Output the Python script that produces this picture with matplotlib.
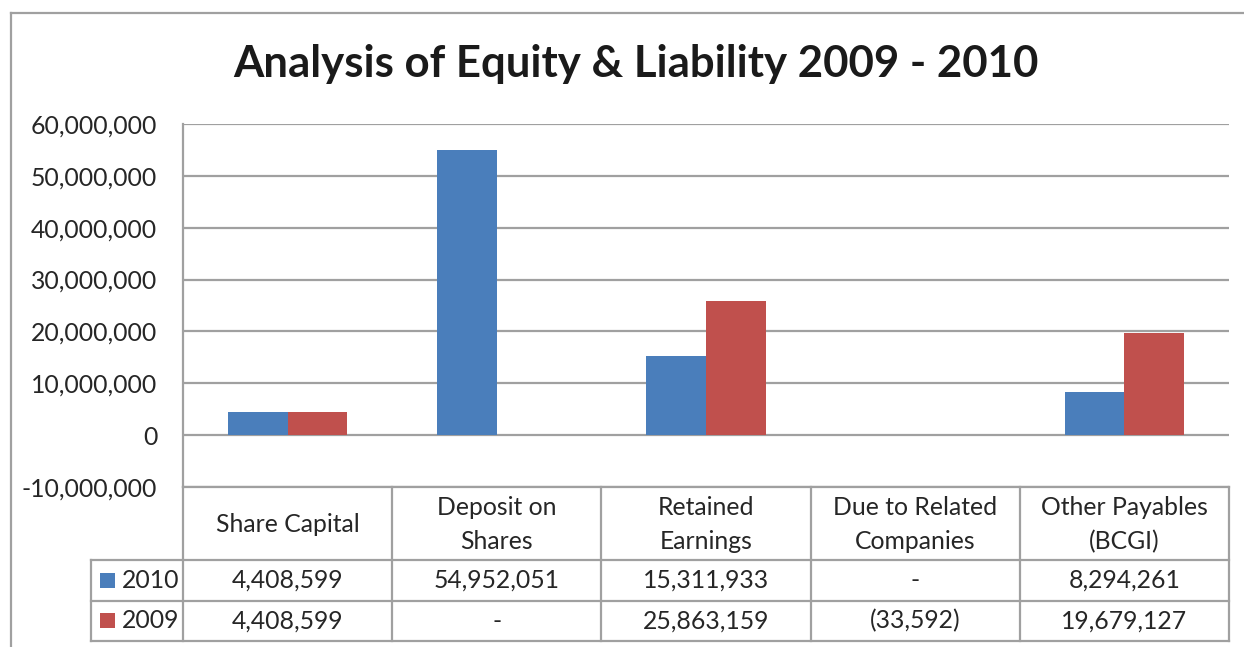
import matplotlib
matplotlib.use("Agg")
import matplotlib.pyplot as plt
from matplotlib.lines import Line2D
from matplotlib.patches import Rectangle

# ---- data ----
categories = ["Share Capital", "Deposit on\nShares", "Retained\nEarnings",
              "Due to Related\nCompanies", "Other Payables\n(BCGI)"]
series_names = ["2010", "2009"]
values_2010 = [4408599, 54952051, 15311933, 0, 8294261]
values_2009 = [4408599, 0, 25863159, -33592, 19679127]
yticks = [-10000000, 0, 10000000, 20000000, 30000000, 40000000, 50000000, 60000000]
title = "Analysis of Equity & Liability 2009 - 2010"

colors = ["#4A7EBB", "#C0504D"]
grid_c = "#A0A0A0"
text_c = "#262626"
FONT = ["Lato", "DejaVu Sans"]
plt.rcParams["font.family"] = FONT
FS = 17.8

W, H = 1244, 647
fig = plt.figure(figsize=(W / 100, H / 100), dpi=100)

def fx(x):
    return x / W

def fy(y):
    return 1 - y / H

# plot area
L, R, T, B = 183, 1229, 124, 487
ax = fig.add_axes([fx(L), fy(B), fx(R) - fx(L), fy(T) - fy(B)])
ax.set_xlim(0, len(categories))
ax.set_ylim(min(yticks), max(yticks))
ax.set_yticks(yticks)
ax.set_yticklabels([f"{v:,}" for v in yticks], fontsize=FS, color=text_c)
ax.tick_params(axis="y", length=0, pad=18.5)
ax.set_xticks([])
for s in ["top", "right", "bottom"]:
    ax.spines[s].set_visible(False)
ax.spines["left"].set_color(grid_c)
ax.spines["left"].set_linewidth(1.6)
ax.yaxis.grid(True, color=grid_c, linewidth=1.6)
ax.set_axisbelow(True)

bw = 0.285
xs = [i + 0.5 for i in range(len(categories))]
ax.bar([x - bw / 2 for x in xs], values_2010, width=bw, color=colors[0], zorder=3)
ax.bar([x + bw / 2 for x in xs], values_2009, width=bw, color=colors[1], zorder=3)

# title
fig.text(fx(636), fy(64), title, ha="center", va="center", fontsize=31.5,
         fontweight="bold", color="#1a1a1a")

# outer border
fig.add_artist(Line2D([fx(11), fx(11)], [fy(13), fy(H + 5)], transform=fig.transFigure,
                      color=grid_c, lw=1.6))
fig.add_artist(Line2D([fx(11), fx(W + 5)], [fy(13), fy(13)], transform=fig.transFigure,
                      color=grid_c, lw=1.6))

# data table
col_edges = [L + i * (R - L) / len(categories) for i in range(len(categories) + 1)]
row_y = [B, 560, 601, 641]
leg_left = 91

def hline(x0, x1, y):
    fig.add_artist(Line2D([fx(x0), fx(x1)], [fy(y), fy(y)], transform=fig.transFigure,
                          color=grid_c, lw=1.6))

def vline(x, y0, y1):
    fig.add_artist(Line2D([fx(x), fx(x)], [fy(y0), fy(y1)], transform=fig.transFigure,
                          color=grid_c, lw=1.6))

hline(L, R, row_y[0])
for y in row_y[1:]:
    hline(leg_left, R, y)
vline(L, B, row_y[-1])
for x in col_edges[1:]:
    vline(x, row_y[0], row_y[-1])
vline(leg_left, row_y[1], row_y[-1])

def fmt(v):
    if v == 0:
        return "-"
    if v < 0:
        return f"({-v:,})"
    return f"{v:,}"

for i, cat in enumerate(categories):
    cx = (col_edges[i] + col_edges[i + 1]) / 2
    fig.text(fx(cx), fy((row_y[0] + row_y[1]) / 2 + 1), cat, ha="center", va="center",
             fontsize=FS, color=text_c, linespacing=1.6)

for r, (name, vals) in enumerate(zip(series_names, [values_2010, values_2009])):
    cy = (row_y[r + 1] + row_y[r + 2]) / 2
    for i, v in enumerate(vals):
        cx = (col_edges[i] + col_edges[i + 1]) / 2
        fig.text(fx(cx), fy(cy), fmt(v), ha="center", va="center", fontsize=FS,
                 color=text_c)
    fig.add_artist(Rectangle((fx(100), fy(cy + 7)), fx(15), fy(0) - fy(15),
                             transform=fig.transFigure, color=colors[r], lw=0))
    fig.text(fx(122), fy(cy), name, ha="left", va="center", fontsize=FS, color=text_c)

fig.savefig("out.png", dpi=100)
